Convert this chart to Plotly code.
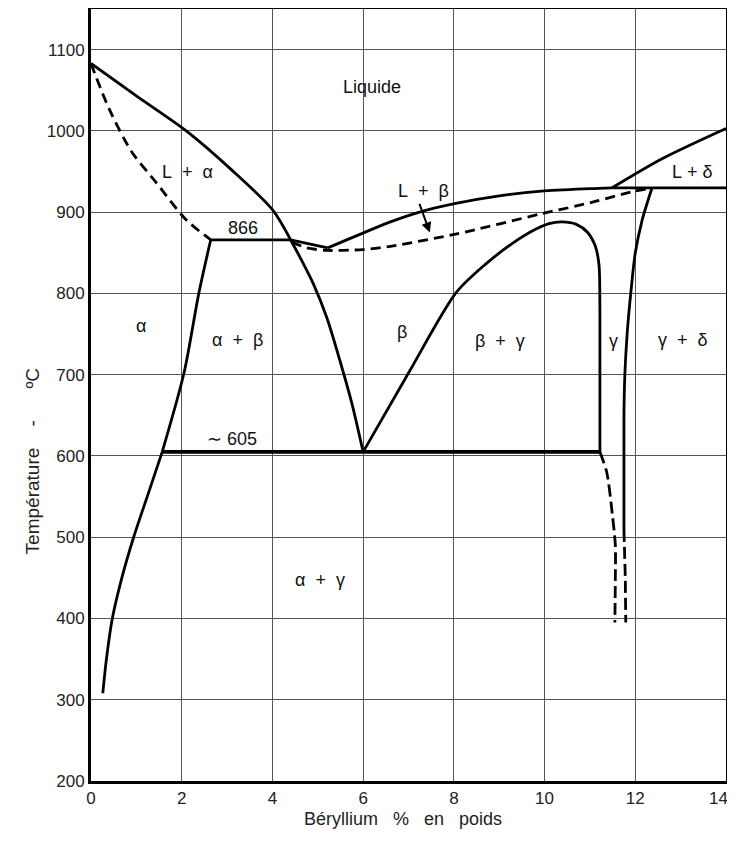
import plotly.graph_objects as go

# ---------------- data (Be wt%, temperature °C) ----------------
liq_alpha_x = [0, 1.0, 2.1, 3.1, 4.0, 4.4]
liq_alpha_t = [1083, 1043, 1000, 952, 903, 866]

sol_alpha_x = [0, 0.4, 0.9, 1.43, 2.09, 2.64]
sol_alpha_t = [1083, 1027, 974, 937, 891, 866]

peritectic_x = [2.64, 4.4]
peritectic_t = [866, 866]

alpha_ab_x = [2.64, 2.38, 2.05, 1.57]
alpha_ab_t = [866, 801, 702, 605]

alpha_solvus_x = [1.57, 1.24, 0.94, 0.68, 0.47, 0.34, 0.26]
alpha_solvus_t = [605, 550, 500, 450, 400, 350, 308]

beta_left_x = [4.4, 4.65, 4.9, 5.2, 5.5, 5.75, 6.0]
beta_left_t = [866, 840, 812, 770, 715, 665, 605]

liq_peri_eut_x = [4.4, 5.22]
liq_peri_eut_t = [866, 856]

liq_beta_x = [5.22, 5.9, 6.6, 7.3, 8.07, 9.0, 9.93, 11.0, 11.49]
liq_beta_t = [856, 872, 888, 901, 911, 920, 926, 929, 930]

sol_beta_x = [4.43, 4.76, 5.2, 6.0, 6.6, 8.04, 9.93, 11.04, 11.92, 12.3]
sol_beta_t = [863, 856, 853, 854, 858, 873, 898, 912, 925, 929]

delta_hor_x = [11.49, 14]
delta_hor_t = [930, 930]

liq_delta_x = [11.49, 12.6, 14]
liq_delta_t = [930, 966, 1003]

dome_x = [6.0, 7.0, 8.05, 8.7, 9.3, 9.8, 10.1, 10.38, 10.7, 10.95, 11.12, 11.2, 11.22, 11.22]
dome_t = [605, 702, 801, 836, 862, 879, 886, 888, 885, 875, 858, 835, 780, 605]

eutectoid_x = [1.57, 11.22]
eutectoid_t = [605, 605]

gamma_left_dash_x = [11.22, 11.37, 11.5, 11.56, 11.56, 11.55]
gamma_left_dash_t = [605, 580, 525, 490, 450, 395]

gamma_right_x = [12.37, 12.15, 12.0, 11.9, 11.82, 11.77, 11.75, 11.75]
gamma_right_t = [930, 890, 850, 800, 750, 700, 650, 509]

gamma_right_dash_x = [11.75, 11.78, 11.79]
gamma_right_dash_t = [509, 450, 395]

x_ticks = [0, 2, 4, 6, 8, 10, 12, 14]
y_ticks = [200, 300, 400, 500, 600, 700, 800, 900, 1000, 1100]

NB = "\u00a0"
x_tick_text = [str(v) for v in x_ticks]
last_x_label = x_tick_text[-1]
x_tick_text[-1] = ""          # the last label is drawn right-aligned at the page edge below
y_tick_text = [str(v) for v in y_ticks]

region_labels = ["Liquide", f"L{NB*2}+{NB*2}α", "866", f"L{NB*2}+{NB*2}β",
                 f"L{NB}+{NB}δ", "α", f"α{NB*2}+{NB*2}β", "β", f"β{NB*2}+{NB*2}γ",
                 "γ", f"γ{NB*2}+{NB*2}δ", f"∼{NB}605", f"α{NB*2}+{NB*2}γ"]
region_x = [6.19, 2.12, 3.35, 7.32, 13.27, 1.10, 3.22, 6.86, 9.02, 11.51, 13.05, 3.11, 5.05]
region_t = [1054, 949, 881, 926, 949, 760, 743, 753, 741, 741, 743, 621, 447]

# ---------------- figure ----------------
fig = go.Figure()
W = 2.8
DASH = "10px,6px"


def add(x, t, dash="solid", width=W, shape="linear"):
    line = dict(color="black", width=width, dash=dash, shape=shape)
    if shape == "spline":
        line["smoothing"] = 0.8
    fig.add_trace(go.Scatter(x=x, y=t, mode="lines", line=line,
                             hoverinfo="skip", showlegend=False))


add(liq_alpha_x, liq_alpha_t, shape="spline")
add(sol_alpha_x, sol_alpha_t, dash=DASH, shape="spline")
add(peritectic_x, peritectic_t)
add(alpha_ab_x, alpha_ab_t, shape="spline")
add(alpha_solvus_x, alpha_solvus_t, shape="spline")
add(beta_left_x, beta_left_t, shape="spline")
add(liq_peri_eut_x, liq_peri_eut_t)
add(liq_beta_x, liq_beta_t, shape="spline")
add(sol_beta_x, sol_beta_t, dash=DASH, shape="spline")
add(delta_hor_x, delta_hor_t)
add(liq_delta_x, liq_delta_t, shape="spline")
add(dome_x, dome_t, shape="spline")
add(eutectoid_x, eutectoid_t, width=3.6)
add(gamma_left_dash_x, gamma_left_dash_t, dash="12px,5px", shape="spline")
add(gamma_right_x, gamma_right_t, shape="spline")
add(gamma_right_dash_x, gamma_right_dash_t, dash="12px,5px")

LABEL_FONT = dict(family="Liberation Sans, Arial, sans-serif", size=18, color="#111")
for txt, xx, tt in zip(region_labels, region_x, region_t):
    fig.add_annotation(x=xx, y=tt, text=txt, showarrow=False, font=LABEL_FONT)

# arrow from "L + β" to the dashed solidus
fig.add_annotation(x=7.47, y=875, ax=7.23, ay=912, axref="x", ayref="y", xref="x", yref="y",
                   text="", showarrow=True, arrowhead=2, arrowsize=1, arrowwidth=2,
                   arrowcolor="black")

TICK_FONT = dict(family="Liberation Sans, Arial, sans-serif", size=17, color="#222")

# last x tick label, right-aligned so it stays inside the page
fig.add_annotation(x=x_ticks[-1], xref="x", y=0, yref="paper", text=last_x_label,
                   xanchor="right", yanchor="top", xshift=4, yshift=-6,
                   showarrow=False, font=TICK_FONT)

# axis titles
TITLE_FONT = dict(family="Liberation Sans, Arial, sans-serif", size=18, color="#222")
fig.add_annotation(xref="paper", yref="paper", x=0.491, y=-0.0645,
                   text=f"Béryllium{NB*3}%{NB*3}en{NB*3}poids", showarrow=False,
                   font=TITLE_FONT)
fig.add_annotation(xref="paper", yref="paper", x=-0.112, y=0.4145, textangle=-90,
                   text=f"Température{NB*4}-{NB*6}ºC", showarrow=False,
                   font=dict(family="Liberation Sans, Arial, sans-serif", size=19, color="#222"))

axis_common = dict(showline=True, linewidth=3, linecolor="black", mirror=True,
                   showgrid=True, gridcolor="#555", gridwidth=1, zeroline=False, ticks="",
                   ticklabeloverflow="allow", automargin=False, tickfont=TICK_FONT)

fig.update_xaxes(range=[0, 14], tickvals=x_ticks, ticktext=x_tick_text, **axis_common)
fig.update_yaxes(range=[200, 1150], tickvals=y_ticks, ticktext=y_tick_text, **axis_common)

# page body has an 8px margin: size the figure so the plot lands where the reference has it
fig.update_layout(width=727, height=827, margin=dict(l=83, r=9, t=1, b=54, autoexpand=False),
                  plot_bgcolor="white", paper_bgcolor="white")

fig.write_html("out.html")
